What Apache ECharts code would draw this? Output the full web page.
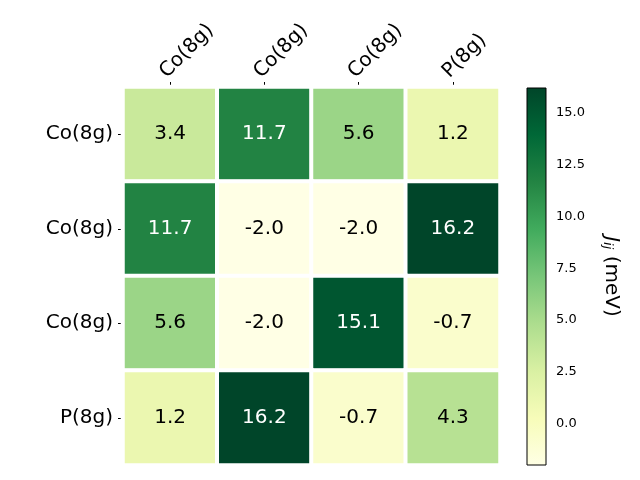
<!DOCTYPE html>
<html><head><meta charset="utf-8">
<script src="https://cdn.jsdelivr.net/npm/echarts@6/dist/echarts.min.js"></script>
<style>html,body{margin:0;padding:0;background:#fff}#c{width:640px;height:480px}</style>
</head><body><div id="c"></div>
<script>
const xCategories = ['Co(8g)', 'Co(8g)', 'Co(8g)', 'P(8g)'];
const yCategories = ['Co(8g)', 'Co(8g)', 'Co(8g)', 'P(8g)'];
const values = [
  [3.4, 11.7, 5.6, 1.2],
  [11.7, -2.0, -2.0, 16.2],
  [5.6, -2.0, 15.1, -0.7],
  [1.2, 16.2, -0.7, 4.3]
];
const vMin = -2.0, vMax = 16.2;
const colorbarTicks = [0.0, 2.5, 5.0, 7.5, 10.0, 12.5, 15.0];
const ylgn = ['#ffffe5','#f7fcb9','#d9f0a3','#addd8e','#78c679','#41ab5d','#238443','#006837','#004529'];
const FONT = 'DejaVu Sans';

const heatData = [];
values.forEach((row, r) => row.forEach((v, c) => {
  heatData.push({value: [c, r, v], label: {color: v > 10 ? '#ffffff' : '#000000'}});
}));

const chart = echarts.init(document.getElementById('c'), null, {renderer: 'canvas'});
chart.setOption({
  backgroundColor: '#ffffff',
  animation: false,
  grid: [
    {left: 123, right: 140, top: 87, bottom: 15},
    {left: 527, width: 19, top: 88, height: 377}
  ],
  xAxis: [
    {type: 'category', data: xCategories, position: 'top', gridIndex: 0,
     axisLine: {show: false}, splitLine: {show: false},
     axisTick: {show: true, alignWithLabel: true, length: 5, lineStyle: {color: '#000'}},
     axisLabel: {rotate: -45, fontSize: 20, color: '#000', fontFamily: FONT, margin: 5,
       align: 'left', verticalAlign: 'bottom'}},
    {type: 'value', gridIndex: 1, min: 0, max: 1, show: false}
  ],
  yAxis: [
    {type: 'category', data: yCategories, inverse: true, gridIndex: 0,
     axisLine: {show: false}, splitLine: {show: false},
     axisTick: {show: true, alignWithLabel: true, length: 5, lineStyle: {color: '#000'}},
     axisLabel: {fontSize: 20, color: '#000', fontFamily: FONT, margin: 10}},
    {type: 'value', gridIndex: 1, min: vMin, max: vMax, position: 'right',
     axisLine: {show: false}, splitLine: {show: false},
     axisTick: {show: true, length: 5, inside: false, lineStyle: {color: '#000'}, customValues: colorbarTicks},
     axisLabel: {fontSize: 13, color: '#000', fontFamily: FONT, margin: 10, customValues: colorbarTicks,
       formatter: v => v.toFixed(1)},
     name: '{j|J}{s|ij} (meV)', nameLocation: 'middle', nameRotate: -90, nameGap: 55,
     nameTextStyle: {fontSize: 20, color: '#000', fontFamily: FONT,
       rich: {j: {fontSize: 20, fontStyle: 'italic', fontFamily: FONT, color: '#000'},
              s: {fontSize: 13, fontStyle: 'italic', fontFamily: FONT, color: '#000', verticalAlign: 'bottom', padding: [8,0,0,0]}}}}
  ],
  visualMap: {show: false, type: 'continuous', min: vMin, max: vMax, seriesIndex: 0, dimension: 2,
    inRange: {color: ylgn}},
  series: [
    {type: 'heatmap', xAxisIndex: 0, yAxisIndex: 0, data: heatData,
     itemStyle: {borderColor: '#ffffff', borderWidth: 4},
     label: {show: true, formatter: p => p.value[2].toFixed(1), fontSize: 20, fontFamily: FONT}},
    {type: 'custom', xAxisIndex: 1, yAxisIndex: 1, data: [[0, vMin, vMax]],
     renderItem: (params, api) => {
       const p1 = api.coord([0, api.value(2)]);
       const p2 = api.coord([1, api.value(1)]);
       const stops = ylgn.slice().reverse().map((c, i) => ({offset: i / (ylgn.length - 1), color: c}));
       return {type: 'rect', shape: {x: p1[0], y: p1[1], width: p2[0] - p1[0], height: p2[1] - p1[1]},
         style: {fill: new echarts.graphic.LinearGradient(0, 0, 0, 1, stops), stroke: '#000', lineWidth: 1}};
     }}
  ]
});
</script></body></html>
